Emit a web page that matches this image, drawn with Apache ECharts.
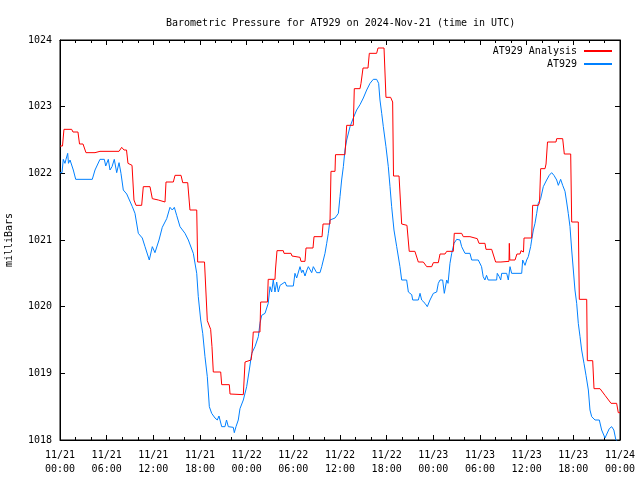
<!DOCTYPE html>
<html>
<head>
<meta charset="utf-8">
<script src="https://cdn.jsdelivr.net/npm/echarts@6/dist/echarts.min.js"></script>
<style>html,body{margin:0;padding:0;background:#fff;}#c{width:640px;height:480px;}</style>
</head>
<body>
<div id="c"></div>
<script>
var titleText = 'Barometric Pressure for AT929 on 2024-Nov-21 (time in UTC)';
var yAxisTitle = 'milliBars';
var seriesNames = ['AT929 Analysis', 'AT929'];
var xTickLabels = ['11/21\n00:00','11/21\n06:00','11/21\n12:00','11/21\n18:00','11/22\n00:00','11/22\n06:00','11/22\n12:00','11/22\n18:00','11/23\n00:00','11/23\n06:00','11/23\n12:00','11/23\n18:00','11/24\n00:00'];

// AT929 Analysis (hours since 11/21 00:00 UTC, mb)
var analysisHours = [0,0.32,0.51,1.5,1.67,2.31,2.51,2.96,3.34,4.5,5.14,7.59,7.93,8.23,8.55,8.74,9.26,9.51,9.77,10.5,10.71,11.57,11.87,12.64,12.86,13.5,13.63,14.57,14.79,15.56,15.78,16.42,16.71,17.58,17.7,18.58,18.94,19.37,19.54,19.71,20.66,20.79,21.77,21.86,23.57,23.79,24.56,24.68,24.85,25.71,25.8,26.67,26.77,27.64,27.7,27.9,28.71,28.8,29.7,29.83,30.86,30.98,31.5,31.63,32.53,32.66,33.69,33.82,34.71,34.84,35.36,35.42,36.64,36.86,37.71,37.84,38.57,38.7,38.96,39.6,39.77,40.71,40.89,41.66,41.91,42.51,42.77,42.88,43.59,43.93,44.61,44.9,45.63,46.07,46.71,47.15,47.79,48,48.64,48.86,49.5,49.72,50.57,50.69,51.64,51.85,52.71,52.84,53.65,53.87,54.64,54.77,55.5,56.01,56.69,56.83,57.73,57.77,57.83,58.5,58.75,59.14,59.27,59.59,59.66,60.64,60.77,61.49,61.65,61.8,62.36,62.49,62.68,63.77,63.86,64.63,64.84,65.66,65.79,66.64,66.77,67.72,67.8,68.49,68.66,69.43,70.07,70.85,71.57,71.78,72];
var analysisValues = [1022.41,1022.41,1022.66,1022.66,1022.62,1022.62,1022.44,1022.44,1022.31,1022.31,1022.33,1022.33,1022.39,1022.35,1022.35,1022.15,1022.12,1021.6,1021.52,1021.52,1021.8,1021.8,1021.62,1021.6,1021.57,1021.57,1021.87,1021.87,1021.97,1021.97,1021.86,1021.86,1021.45,1021.45,1020.67,1020.67,1019.79,1019.66,1019.4,1019.02,1019.02,1018.83,1018.83,1018.69,1018.68,1019.17,1019.2,1019.3,1019.62,1019.62,1020.07,1020.07,1020.41,1020.41,1020.55,1020.84,1020.84,1020.8,1020.8,1020.76,1020.74,1020.68,1020.68,1020.88,1020.88,1021.05,1021.05,1021.24,1021.24,1022.03,1022.03,1022.28,1022.28,1022.72,1022.72,1023.27,1023.27,1023.35,1023.58,1023.58,1023.8,1023.8,1023.88,1023.88,1023.14,1023.14,1023.07,1021.96,1021.96,1021.24,1021.22,1020.83,1020.83,1020.67,1020.67,1020.6,1020.6,1020.66,1020.66,1020.79,1020.79,1020.83,1020.83,1021.1,1021.1,1021.05,1021.05,1021.02,1021.02,1020.95,1020.95,1020.86,1020.86,1020.67,1020.67,1020.68,1020.68,1020.95,1020.7,1020.7,1020.79,1020.79,1020.84,1020.82,1021.03,1021.03,1021.52,1021.52,1021.56,1022.07,1022.07,1022.14,1022.47,1022.47,1022.52,1022.52,1022.29,1022.29,1021.27,1021.27,1020.11,1020.11,1019.19,1019.19,1018.77,1018.77,1018.67,1018.55,1018.55,1018.41,1018.41];

// AT929 observed
var obsHours = [0,0.26,0.42,0.64,0.77,0.99,1.09,1.29,1.71,2.02,4.15,4.5,5.14,5.7,5.88,6.21,6.43,6.69,6.98,7.29,7.59,7.84,8.14,8.58,9.3,9.64,10.07,10.58,10.93,11.48,11.87,12.21,12.73,13.15,13.72,14.14,14.44,14.7,15,15.43,16.07,16.5,16.71,17.14,17.58,17.78,18.09,18.35,18.64,18.94,19.2,19.5,19.93,20.22,20.44,20.57,20.79,21.21,21.41,21.64,22.28,22.41,22.63,22.92,23.14,23.57,24,24.34,24.65,25.07,25.5,25.71,25.93,26.36,26.77,27,27.21,27.42,27.64,27.86,28.07,28.29,28.93,29.14,30,30.21,30.43,30.86,31.07,31.24,31.5,31.75,31.93,32.36,32.57,33,33.43,33.65,33.86,34.07,34.29,34.5,34.71,35.36,35.79,36,36.21,36.43,36.64,36.86,37.29,37.71,38.14,38.57,39,39.43,39.86,40.28,40.71,40.97,41.14,41.36,41.57,41.91,42.21,42.43,42.64,42.94,43.29,43.71,43.93,44.57,44.79,45.22,45.35,46.07,46.29,46.5,46.93,47.22,47.57,48,48.43,48.64,48.86,49.2,49.41,49.72,49.89,50.14,50.36,50.66,51,51.43,51.64,52.07,52.71,52.93,53.78,54.2,54.41,54.63,54.84,55.05,56.14,56.22,56.48,56.66,56.79,57.43,57.64,57.86,58.07,59.36,59.49,59.79,60,60.21,60.51,60.64,60.86,61.07,61.29,61.49,61.8,62.14,62.57,62.9,63.21,63.51,63.86,64.07,64.37,64.63,64.93,65.14,65.35,65.57,65.79,66,66.21,66.43,66.64,66.86,67.07,67.37,67.63,67.93,68.14,68.36,68.57,68.79,69.34,69.64,70.07,70.29,70.62,70.93,71.21,71.47,72];
var obsValues = [1022.01,1022.01,1022.21,1022.15,1022.21,1022.3,1022.15,1022.2,1022.05,1021.91,1021.91,1022.05,1022.21,1022.21,1022.11,1022.21,1022.05,1022.1,1022.21,1022.01,1022.16,1022.0,1021.75,1021.69,1021.5,1021.4,1021.1,1021.03,1020.9,1020.7,1020.9,1020.81,1021.0,1021.19,1021.32,1021.49,1021.45,1021.49,1021.37,1021.2,1021.1,1021.0,1021.0,1020.8,1020.5,1020.15,1019.8,1019.6,1019.25,1018.95,1018.5,1018.4,1018.33,1018.3,1018.36,1018.3,1018.2,1018.2,1018.3,1018.2,1018.19,1018.11,1018.2,1018.3,1018.47,1018.6,1018.8,1019.05,1019.3,1019.4,1019.55,1019.75,1019.87,1019.9,1020.05,1020.3,1020.22,1020.4,1020.22,1020.37,1020.22,1020.32,1020.37,1020.31,1020.31,1020.5,1020.43,1020.6,1020.51,1020.55,1020.46,1020.55,1020.6,1020.51,1020.6,1020.51,1020.51,1020.6,1020.7,1020.8,1020.95,1021.1,1021.3,1021.33,1021.4,1021.65,1021.9,1022.1,1022.35,1022.5,1022.7,1022.83,1022.95,1023.03,1023.13,1023.25,1023.35,1023.41,1023.41,1023.35,1023.1,1022.9,1022.7,1022.4,1022.1,1021.8,1021.5,1021.15,1020.9,1020.6,1020.4,1020.4,1020.22,1020.18,1020.1,1020.1,1020.2,1020.1,1020.05,1020.0,1020.1,1020.2,1020.22,1020.35,1020.4,1020.4,1020.2,1020.4,1020.35,1020.65,1020.8,1020.95,1021.01,1021.0,1020.9,1020.8,1020.8,1020.7,1020.7,1020.6,1020.45,1020.4,1020.47,1020.4,1020.4,1020.5,1020.45,1020.4,1020.5,1020.5,1020.4,1020.6,1020.5,1020.5,1020.7,1020.62,1020.7,1020.75,1020.9,1021.0,1021.15,1021.25,1021.4,1021.55,1021.62,1021.8,1021.9,1021.97,1022.01,1021.97,1021.9,1021.82,1021.91,1021.82,1021.73,1021.57,1021.4,1021.2,1020.85,1020.55,1020.25,1020.05,1019.75,1019.55,1019.35,1019.15,1018.97,1018.75,1018.45,1018.35,1018.37,1018.3,1018.3,1018.15,1018.03,1018.0,1018.17,1018.2,1018.15,1018.0,1017.95];

function pairs(xs, ys) { return xs.map(function (x, i) { return [x, ys[i]]; }); }

var FONT = '"DejaVu Sans Mono", "Liberation Mono", monospace';
var chart = echarts.init(document.getElementById('c'), null, { renderer: 'canvas' });

function xAxisCfg(pos, showLabels) {
  return {
    type: 'value', position: pos, min: 0, max: 72, interval: 6,
    axisLine: { show: true, onZero: false, lineStyle: { color: '#000', width: 1 } },
    axisTick: { show: true, inside: true, length: 5, lineStyle: { color: '#000' } },
    minorTick: { show: true, splitNumber: 3, length: 3, lineStyle: { color: '#000' } },
    splitLine: { show: false },
    axisLabel: {
      show: showLabels, color: '#000', fontFamily: FONT, fontSize: 10, margin: 8, lineHeight: 14,
      formatter: function (v) { return xTickLabels[Math.round(v / 6)] || ''; }
    }
  };
}
function yAxisCfg(pos, showLabels) {
  return {
    type: 'value', position: pos, min: 1018, max: 1024, interval: 1,
    name: showLabels ? yAxisTitle : '', nameLocation: 'middle', nameGap: 46,
    nameTextStyle: { color: '#000', fontFamily: FONT, fontSize: 10 },
    axisLine: { show: true, onZero: false, lineStyle: { color: '#000', width: 1 } },
    axisTick: { show: true, inside: true, length: 5, lineStyle: { color: '#000' } },
    splitLine: { show: false },
    axisLabel: {
      show: showLabels, color: '#000', fontFamily: FONT, fontSize: 10, margin: 8,
      formatter: function (v) { return String(v); }
    }
  };
}

chart.setOption({
  animation: false,
  backgroundColor: '#fff',
  title: {
    text: titleText, left: 161, top: 13,
    textStyle: { color: '#000', fontFamily: FONT, fontSize: 10, fontWeight: 'normal' }
  },
  legend: {
    data: seriesNames, orient: 'vertical', right: 23, top: 41, align: 'right',
    itemWidth: 28, itemHeight: 2, itemGap: 3, icon: 'rect',
    textStyle: { color: '#000', fontFamily: FONT, fontSize: 10, padding: [0, 2, 0, 0] }
  },
  grid: { left: 60, right: 20, top: 40, bottom: 40, show: true, borderColor: '#000', borderWidth: 1, containLabel: false, outerBoundsMode: 'none' },
  xAxis: [xAxisCfg('bottom', true), xAxisCfg('top', false)],
  yAxis: [yAxisCfg('left', true), yAxisCfg('right', false)],
  series: [
    {
      name: seriesNames[1], type: 'line', data: pairs(obsHours, obsValues),
      showSymbol: false, symbol: 'none', clip: true,
      lineStyle: { color: '#0080ff', width: 1 }, itemStyle: { color: '#0080ff' }
    },
    {
      name: seriesNames[0], type: 'line', data: pairs(analysisHours, analysisValues),
      showSymbol: false, symbol: 'none', clip: true,
      lineStyle: { color: '#ff0000', width: 1 }, itemStyle: { color: '#ff0000' }
    }
  ]
});
</script>
</body>
</html>
